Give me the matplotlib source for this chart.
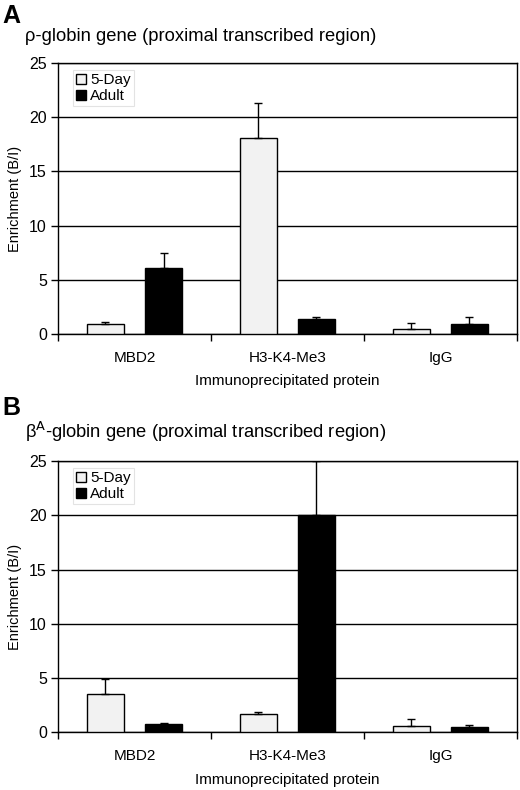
import matplotlib
matplotlib.use('Agg')
import matplotlib.pyplot as plt
import numpy as np

plt.rcParams['font.family'] = ['Liberation Sans', 'DejaVu Sans']

# Datos
categorias = ['MBD2', 'H3-K4-Me3', 'IgG']
series = ['5-Day', 'Adult']

a_5day = [0.95, 18.05, 0.5]
a_5day_err = [0.2, 3.3, 0.5]
a_adult = [6.05, 1.35, 0.95]
a_adult_err = [1.4, 0.2, 0.6]

b_5day = [3.5, 1.7, 0.6]
b_5day_err = [1.4, 0.17, 0.65]
b_adult = [0.75, 20.0, 0.52]
b_adult_err = [0.13, 5.0, 0.13]

titulos = ['ρ-globin gene (proximal transcribed region)',
           r'β$^{\mathrm{A}}$-globin gene (proximal transcribed region)']
letras = ['A', 'B']

fig = plt.figure(figsize=(5.2, 7.9), dpi=100)
# [left, bottom, width, height]
posiciones = [[0.1115, 0.5772, 0.8825, 0.3431],
              [0.1115, 0.0730, 0.8825, 0.3435]]
letra_y = [0.9715, 0.4747]
titulo_y = [0.948, 0.4456]

datos = [(a_5day, a_5day_err, a_adult, a_adult_err),
         (b_5day, b_5day_err, b_adult, b_adult_err)]

x = np.arange(len(categorias))
ancho = 0.24
desp = 0.19

for k in range(2):
    ax = fig.add_axes(posiciones[k])
    v5, e5, va, ea = datos[k]
    ax.bar(x - desp, v5, ancho, color='#f2f2f2', edgecolor='black',
           linewidth=1.0, label=series[0], zorder=3,
           yerr=[np.zeros(3), e5], capsize=3,
           error_kw=dict(elinewidth=1.0, capthick=1.0, ecolor='black', zorder=4))
    ax.bar(x + desp, va, ancho, color='black', edgecolor='black',
           linewidth=1.0, label=series[1], zorder=3,
           yerr=[np.zeros(3), ea], capsize=3,
           error_kw=dict(elinewidth=1.0, capthick=1.0, ecolor='black', zorder=4))

    ax.set_xlim(-0.5, len(categorias) - 0.5)
    ax.set_ylim(0, 25)
    ax.set_yticks([0, 5, 10, 15, 20, 25])
    ax.yaxis.grid(True, color='black', linewidth=1.0, zorder=0)
    ax.set_axisbelow(True)

    ax.set_xticks(x)
    ax.set_xticklabels(categorias, fontsize=11)
    ax.tick_params(axis='x', length=0, pad=12)
    ax.set_xticks(np.arange(-0.5, len(categorias)), minor=True)
    ax.tick_params(axis='x', which='minor', length=5, width=1.0, direction='out')
    ax.tick_params(axis='y', labelsize=11.5, length=5, width=1.0, direction='out', pad=3)

    for s in ax.spines.values():
        s.set_linewidth(1.0)

    ax.set_ylabel('Enrichment (B/I)', fontsize=10.5, labelpad=5)
    ax.set_xlabel('Immunoprecipitated protein', fontsize=11, labelpad=7)

    leg = ax.legend(loc='upper left', bbox_to_anchor=(0.033, 0.974), fontsize=11,
                    frameon=True, fancybox=False, handlelength=0.65, handleheight=0.65,
                    handletextpad=0.25, borderpad=0.2, labelspacing=0.15,
                    borderaxespad=0.0)
    leg.get_frame().set_edgecolor('#dddddd')
    leg.get_frame().set_linewidth(0.8)

    fig.text(0.004, letra_y[k], letras[k], fontsize=18, fontweight='bold',
             va='baseline', ha='left')
    fig.text(0.048, titulo_y[k], titulos[k], fontsize=13.2, va='baseline', ha='left')

fig.savefig('out.png', dpi=100)
